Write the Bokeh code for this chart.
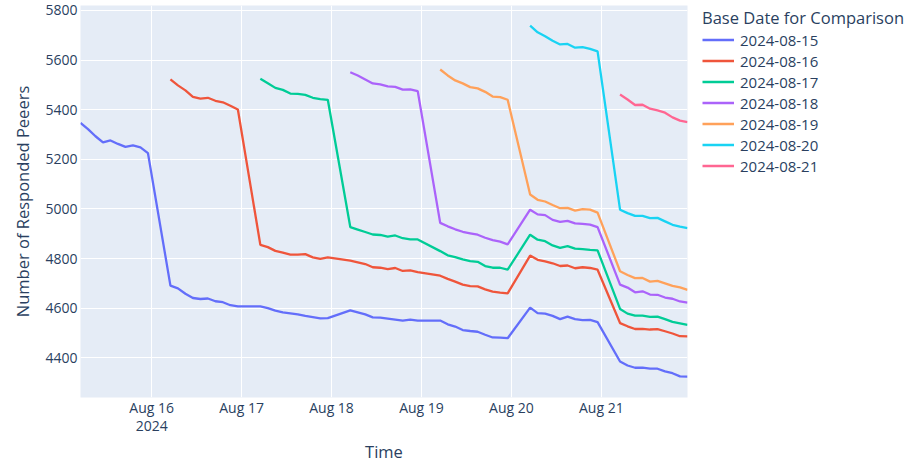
import pandas as pd
from bokeh.plotting import figure
from bokeh.models import Range1d, FixedTicker, DatetimeTickFormatter, Legend, LegendItem
from bokeh.embed import file_html
from bokeh.resources import INLINE

# ---- data -------------------------------------------------------------
days = ["2024-08-15", "2024-08-16", "2024-08-17", "2024-08-18",
        "2024-08-19", "2024-08-20", "2024-08-21"]
hours = [5, 7, 9, 11, 13, 15, 17, 19, 21, 23]
base_dates = days
colors = ["#636EFA", "#EF553B", "#00CC96", "#AB63FA", "#FFA15A", "#19D3F3", "#FF6692"]
x_tick_labels = ["Aug 16\n2024", "Aug 17", "Aug 18", "Aug 19", "Aug 20", "Aug 21"]

peers_0815 = [
    5347, 5322, 5293, 5268, 5276, 5262, 5250, 5256, 5248, 5225,
    4691, 4680, 4658, 4641, 4637, 4639, 4628, 4624, 4612, 4607,
    4607, 4600, 4590, 4583, 4579, 4575, 4569, 4564, 4559, 4560,
    4591, 4583, 4575, 4563, 4562, 4558, 4554, 4550, 4554, 4550,
    4550, 4535, 4526, 4512, 4508, 4505, 4493, 4482, 4481, 4479,
    4602, 4580, 4578, 4569, 4556, 4566, 4556, 4552, 4553, 4544,
    4385, 4369, 4360, 4360, 4356, 4356, 4345, 4338, 4325, 4324,
]
peers_0816 = [
    5522, 5498, 5478, 5452, 5445, 5448, 5436, 5430, 5416, 5401,
    4855, 4846, 4831, 4824, 4816, 4816, 4818, 4805, 4799, 4805,
    4792, 4785, 4778, 4765, 4763, 4757, 4762, 4750, 4752, 4745,
    4731, 4718, 4707, 4695, 4689, 4688, 4676, 4667, 4663, 4660,
    4812, 4795, 4789, 4781, 4770, 4772, 4761, 4765, 4762, 4755,
    4540, 4527, 4516, 4517, 4514, 4516, 4507, 4498, 4487, 4486,
]
peers_0817 = [
    5525, 5507, 5488, 5480, 5465, 5464, 5460, 5448, 5443, 5440,
    4927, 4917, 4907, 4897, 4895, 4888, 4893, 4882, 4877, 4877,
    4830, 4813, 4806, 4797, 4790, 4787, 4770, 4763, 4763, 4755,
    4896, 4876, 4870, 4853, 4843, 4850, 4840, 4838, 4835, 4833,
    4597, 4578, 4570, 4570, 4565, 4566, 4556, 4545, 4539, 4533,
]
peers_0818 = [
    5551, 5538, 5522, 5506, 5502, 5494, 5492, 5481, 5482, 5475,
    4944, 4930, 4918, 4908, 4902, 4896, 4884, 4874, 4868, 4857,
    4997, 4978, 4975, 4956, 4948, 4952, 4942, 4940, 4937, 4927,
    4695, 4683, 4664, 4668, 4655, 4654, 4643, 4638, 4627, 4622,
]
peers_0819 = [
    5562, 5538, 5518, 5506, 5491, 5486, 5472, 5453, 5451, 5440,
    5058, 5037, 5030, 5016, 5003, 5004, 4993, 4999, 4997, 4985,
    4749, 4734, 4721, 4722, 4707, 4710, 4700, 4690, 4684, 4674,
]
peers_0820 = [
    5739, 5712, 5696, 5678, 5663, 5665, 5650, 5652, 5645, 5635,
    4997, 4983, 4972, 4972, 4963, 4964, 4950, 4936, 4929, 4923,
]
peers_0821 = [
    5461, 5441, 5419, 5420, 5404, 5397, 5388, 5369, 5356, 5350,
]
series = [peers_0815, peers_0816, peers_0817, peers_0818,
          peers_0819, peers_0820, peers_0821]
y_ticks = [4400, 4600, 4800, 5000, 5200, 5400, 5600, 5800]

# ---- helpers ----------------------------------------------------------
def times_from(start_idx):
    out = []
    for d in days[start_idx:]:
        for h in hours:
            out.append(pd.Timestamp(d) + pd.Timedelta(hours=h))
    return out

FONT = "Open Sans"
TXT = "#2a3f5f"
FRAME_W, FRAME_H = 607, 392

p = figure(
    frame_width=FRAME_W, frame_height=FRAME_H,
    x_axis_type="datetime",
    x_range=Range1d(pd.Timestamp("2024-08-15 05:00"), pd.Timestamp("2024-08-21 23:00")),
    y_range=Range1d(4240, 5820),
    output_backend="svg", toolbar_location=None,
    min_border_left=80, min_border_right=216, min_border_top=5, min_border_bottom=60,
)
p.background_fill_color = "#E5ECF6"
p.border_fill_color = "white"
p.outline_line_color = None

renderers = []
for i, vals in enumerate(series):
    r = p.line(times_from(i), vals, line_color=colors[i], line_width=2.3)
    renderers.append(r)

# grid
for g in (p.xgrid, p.ygrid):
    g.grid_line_color = "white"
    g.grid_line_width = 1

# axes
tick_ms = [pd.Timestamp(d).value // 10**6 for d in days[1:]]
p.xaxis.ticker = FixedTicker(ticks=tick_ms)
p.xaxis.formatter = DatetimeTickFormatter(days="%b %d")
p.xaxis.major_label_overrides = {t: lab for t, lab in zip(tick_ms, x_tick_labels)}
p.yaxis.ticker = FixedTicker(ticks=y_ticks)
for ax in (p.xaxis, p.yaxis):
    ax.axis_line_color = None
    ax.major_tick_line_color = None
    ax.minor_tick_line_color = None
    ax.major_tick_out = 0
    ax.major_tick_in = 0
    ax.major_label_text_font = FONT
    ax.major_label_text_font_size = "14px"
    ax.major_label_text_color = TXT
    ax.axis_label_text_font = FONT
    ax.axis_label_text_font_size = "16.5px"
    ax.axis_label_text_color = TXT
    ax.axis_label_text_font_style = "normal"
p.xaxis.major_label_text_line_height = 0.95
p.xaxis.axis_label = "Time"
p.yaxis.axis_label = "Number of Responded Peeers"
p.xaxis.major_label_standoff = 0
p.yaxis.major_label_standoff = 3
p.xaxis.axis_label_standoff = 2
p.yaxis.axis_label_standoff = 8

# legend
items = [LegendItem(label=base_dates[i], renderers=[renderers[i]]) for i in range(len(series))]
legend = Legend(items=items, title="Base Date for Comparison", location=(15, 221))
legend.border_line_color = None
legend.background_fill_alpha = 0
legend.padding = 0
legend.margin = 0
legend.spacing = 0
legend.glyph_width = 32
legend.glyph_height = 21
legend.label_height = 21
legend.label_standoff = 6
legend.label_text_font = FONT
legend.label_text_font_size = "15px"
legend.label_text_color = TXT
legend.title_text_font = FONT
legend.title_text_font_size = "16.5px"
legend.title_text_font_style = "normal"
legend.title_text_color = TXT
legend.title_standoff = 0
p.add_layout(legend, "right")

open("out.html", "w").write(file_html(p, INLINE))
